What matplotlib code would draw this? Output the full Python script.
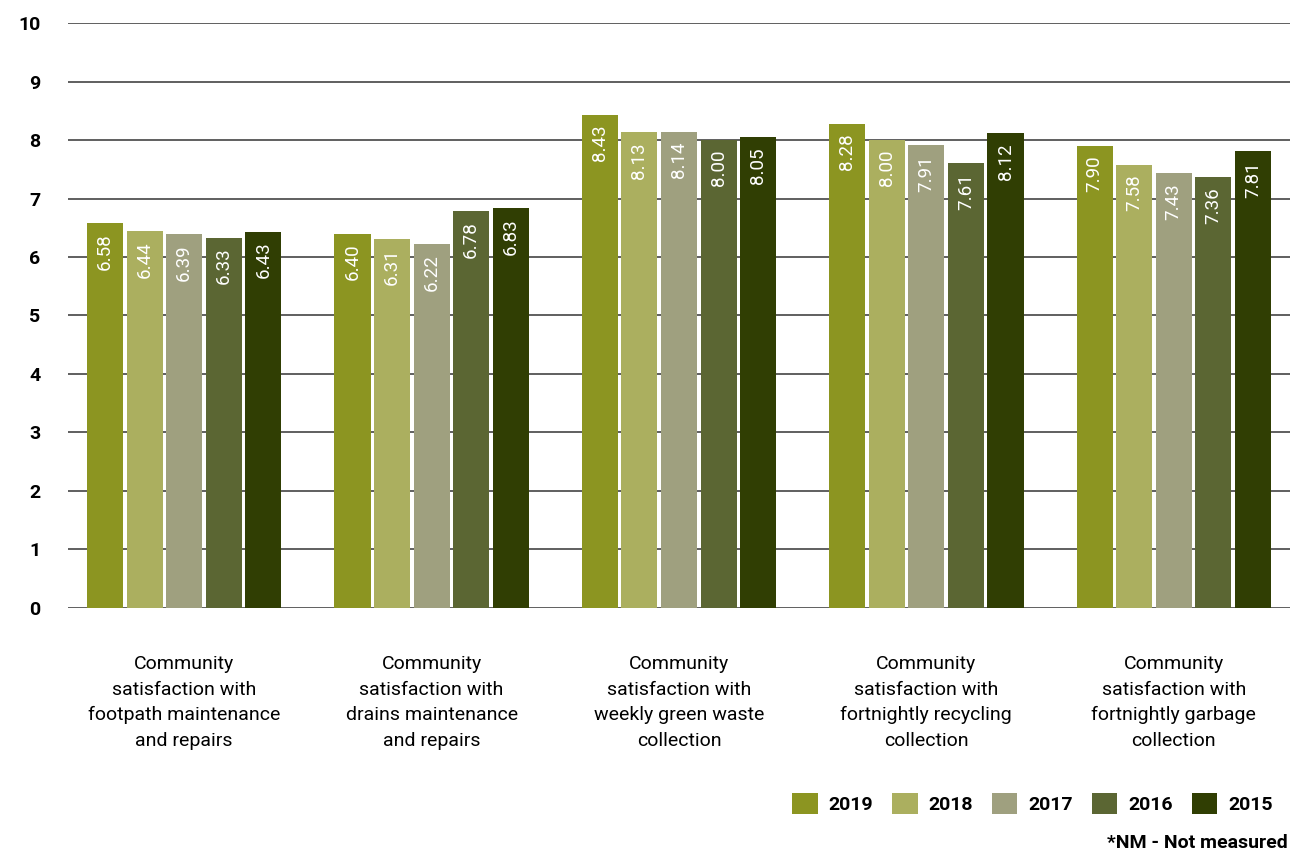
import matplotlib
matplotlib.use('Agg')
import matplotlib.pyplot as plt
import numpy as np

plt.rcParams['font.family'] = ['Roboto', 'DejaVu Sans']

categories = ['Community\nsatisfaction with\nfootpath maintenance\nand repairs',
              'Community\nsatisfaction with\ndrains maintenance\nand repairs',
              'Community\nsatisfaction with\nweekly green waste\ncollection',
              'Community\nsatisfaction with\nfortnightly recycling\ncollection',
              'Community\nsatisfaction with\nfortnightly garbage\ncollection']
years = ['2019', '2018', '2017', '2016', '2015']
v2019 = [6.58, 6.40, 8.43, 8.28, 7.90]
v2018 = [6.44, 6.31, 8.13, 8.00, 7.58]
v2017 = [6.39, 6.22, 8.14, 7.91, 7.43]
v2016 = [6.33, 6.78, 8.00, 7.61, 7.36]
v2015 = [6.43, 6.83, 8.05, 8.12, 7.81]
series = [v2019, v2018, v2017, v2016, v2015]
colors = ['#8C9521', '#ABAF5F', '#9FA07F', '#5B6633', '#303E03']

fig = plt.figure(figsize=(12.9, 8.55), dpi=100)
ax = fig.add_axes([0.0527, 0.289, 0.9473, 0.684])

x = np.arange(len(categories))
width = 0.146
step = 0.16
for i, (vals, col, yr) in enumerate(zip(series, colors, years)):
    xpos = x + (i - 2) * step
    bars = ax.bar(xpos, vals, width, color=col, label=yr, zorder=3)
    for b, v in zip(bars, vals):
        ax.text(b.get_x() + b.get_width() / 2, v - 0.17, '{:.2f}'.format(v),
                rotation=90, ha='center', va='top', color='white',
                fontsize=13.5, zorder=4)

ax.set_ylim(0, 10)
ax.set_xlim(-0.47, 4.47)
ax.set_yticks(range(0, 11))
ax.grid(axis='y', color='#444444', linewidth=1.2, zorder=0)
for s in ax.spines.values():
    s.set_visible(False)
ax.tick_params(axis='both', length=0)
ax.tick_params(axis='y', labelsize=14, pad=20)
for lbl in ax.get_yticklabels():
    lbl.set_fontweight('bold')
ax.set_xticks(x)
ax.set_xticklabels(categories, fontsize=14, linespacing=1.54)
ax.tick_params(axis='x', pad=34)

fig.legend(loc='lower right', bbox_to_anchor=(1.0, 0.027), ncol=5,
           frameon=False, handlelength=1.3, handleheight=1.3,
           columnspacing=1.0, handletextpad=0.55,
           prop={'size': 14, 'weight': 'bold'})
fig.text(0.998, 0.004, '*NM - Not measured', ha='right', va='bottom',
         fontsize=14, fontweight='bold')

fig.savefig('out.png', dpi=100)
